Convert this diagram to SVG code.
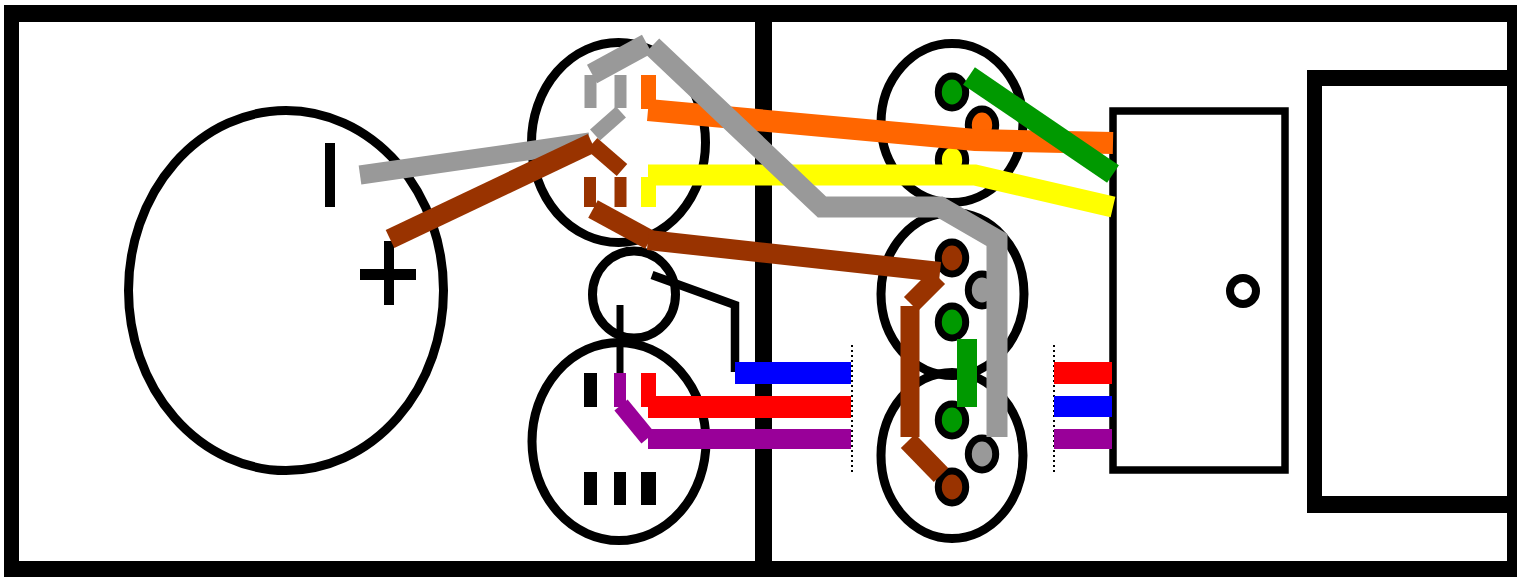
<svg xmlns="http://www.w3.org/2000/svg" width="1525" height="578" viewBox="0 0 1525 578">
<style>
.k{fill:none;stroke:#000;stroke-width:9}
.kf{fill:#000}
.w{fill:none;stroke-linejoin:miter;stroke-linecap:butt}
.pin{stroke:#000;stroke-width:7}
.dot{fill:none;stroke:#000;stroke-width:2;stroke-dasharray:2 3}
</style>
<rect width="1525" height="578" fill="#fff"/>
<g id="enclosure">
<path fill="#000" fill-rule="evenodd" d="M4 5H1517V577H4ZM19 22V561H1507V22Z"/>
<rect x="755" y="13" width="17" height="556" fill="#000"/>
</g>
<g id="battery">
<ellipse class="k" cx="286" cy="290.500" rx="157.500" ry="180"/>
<rect class="kf" x="325" y="143" width="10" height="64"/>
<rect class="kf" x="360" y="269" width="56" height="11"/>
<rect class="kf" x="384" y="241" width="10" height="64"/>
</g>
<g id="switch-top"><ellipse class="k" cx="618.500" cy="142.500" rx="87" ry="100"/></g>
<g id="pot"><ellipse class="k" cx="634" cy="294.500" rx="41.500" ry="43.500"/></g>
<g id="switch-bottom">
<ellipse class="k" cx="619" cy="441.500" rx="87" ry="99"/>
<rect class="kf" x="584" y="373" width="13" height="34"/>
<rect class="kf" x="584" y="472" width="13" height="33"/>
<rect class="kf" x="614" y="472" width="12" height="33"/>
<rect class="kf" x="641" y="472" width="15" height="33"/>
</g>
<g id="jack-1">
<ellipse class="k" cx="952" cy="123" rx="71" ry="79.500"/>
<ellipse class="pin" cx="952" cy="92" rx="13.700" ry="16" fill="#090"/>
<ellipse class="pin" cx="982" cy="125" rx="13.700" ry="16" fill="#f60"/>
<ellipse class="pin" cx="952" cy="160" rx="13.700" ry="16" fill="#ff0"/>
</g>
<g id="jack-2">
<ellipse class="k" cx="952.500" cy="294" rx="71.500" ry="81.500"/>
<ellipse class="pin" cx="952" cy="258" rx="13.700" ry="16" fill="#930"/>
<ellipse class="pin" cx="982" cy="290" rx="13.700" ry="16" fill="#999"/>
<ellipse class="pin" cx="952" cy="322" rx="13.700" ry="16" fill="#090"/>
</g>
<g id="jack-3">
<ellipse class="k" cx="952" cy="455.500" rx="71" ry="83"/>
<ellipse class="pin" cx="952" cy="420" rx="13.700" ry="16" fill="#090"/>
<ellipse class="pin" cx="982" cy="454" rx="13.700" ry="16" fill="#999"/>
<ellipse class="pin" cx="952" cy="487" rx="13.700" ry="16" fill="#930"/>
</g>
<g id="module">
<rect x="1113" y="111" width="172" height="359" fill="#fff" stroke="#000" stroke-width="7.500"/>
<ellipse class="k" style="stroke-width:8" cx="1243" cy="291" rx="13" ry="13"/>
</g>
<g id="panel">
<path fill="#000" fill-rule="evenodd" d="M1307 70H1510V513H1307ZM1322 86V496H1507V86Z"/>
</g>
<g id="connectors">
<polyline class="w" stroke="#000" stroke-width="8.500" points="652,275 735,305 735,372"/>
<line x1="620" y1="305" x2="620" y2="373" stroke="#000" stroke-width="7"/>
<line class="dot" x1="852" y1="345" x2="852" y2="472"/>
<line class="dot" x1="1054" y1="345" x2="1054" y2="472"/>
<polyline class="w" stroke="#f60" stroke-width="15" points="648.500,75 648.500,109"/>
<polyline class="w" stroke="#f60" stroke-width="22" points="648,110 975,140 1113,143"/>
<polyline class="w" stroke="#ff0" stroke-width="15" points="648.500,207 648.500,177"/>
<polyline class="w" stroke="#ff0" stroke-width="21" points="648,175 975,175 1113,207"/>
<line x1="590.500" y1="108" x2="590.500" y2="75" stroke="#999" stroke-width="12"/>
<line x1="620.500" y1="75" x2="620.500" y2="108" stroke="#999" stroke-width="12"/>
<line x1="592" y1="74" x2="647" y2="44" stroke="#999" stroke-width="21"/>
<line x1="595" y1="135" x2="621" y2="112" stroke="#999" stroke-width="15"/>
<polyline class="w" stroke="#999" stroke-width="19" points="360,175 590,142"/>
<polyline class="w" stroke="#999" stroke-width="21" points="652,46 822,207 940,207 997,240 997,437"/>
<polyline class="w" stroke="#930" stroke-width="20" points="390,239 592,143"/>
<line x1="592" y1="144" x2="622" y2="170" stroke="#930" stroke-width="16"/>
<line x1="590" y1="177" x2="590" y2="207" stroke="#930" stroke-width="12"/>
<line x1="620.500" y1="177" x2="620.500" y2="207" stroke="#930" stroke-width="12"/>
<line x1="593" y1="209" x2="650" y2="240" stroke="#930" stroke-width="20"/>
<polyline class="w" stroke="#930" stroke-width="20" points="648,240 940,272"/>
<line x1="938" y1="277" x2="911" y2="304" stroke="#930" stroke-width="20"/>
<line x1="910" y1="306" x2="910" y2="437" stroke="#930" stroke-width="19"/>
<line x1="908" y1="441" x2="941" y2="475" stroke="#930" stroke-width="20"/>
<line x1="969" y1="76" x2="1113" y2="174" stroke="#090" stroke-width="21"/>
<rect x="957" y="339" width="20" height="68" fill="#090"/>
<rect x="735" y="362" width="116" height="22" fill="#00f"/>
<line x1="648.500" y1="373" x2="648.500" y2="407" stroke="#f00" stroke-width="15"/>
<rect x="648" y="396" width="203" height="22" fill="#f00"/>
<line x1="620" y1="373" x2="620" y2="407" stroke="#909" stroke-width="12"/>
<line x1="621" y1="405" x2="648" y2="438" stroke="#909" stroke-width="17"/>
<rect x="648" y="429" width="203" height="20" fill="#909"/>
<rect x="1054" y="362" width="58" height="22" fill="#f00"/>
<rect x="1054" y="396" width="58" height="21" fill="#00f"/>
<rect x="1054" y="429" width="58" height="20" fill="#909"/>
</g>
</svg>
